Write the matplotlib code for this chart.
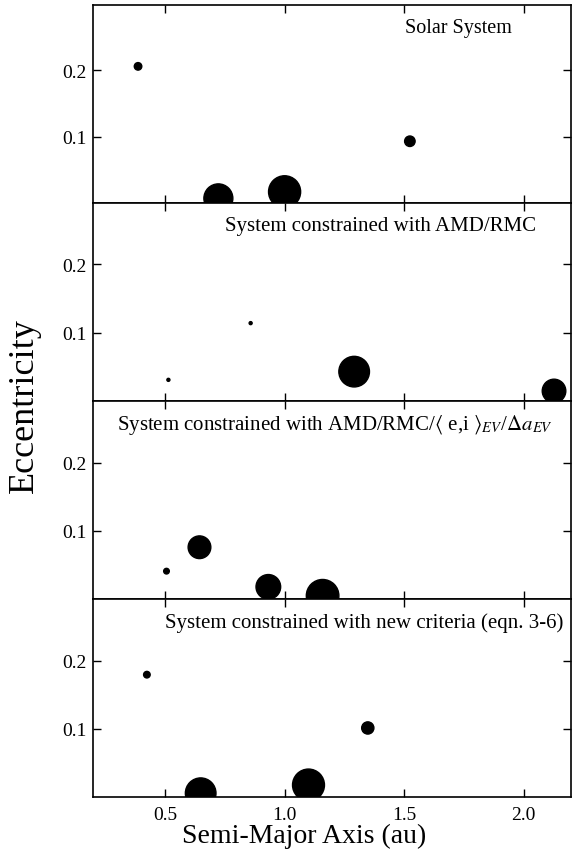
import matplotlib
matplotlib.use('Agg')
from matplotlib import pyplot as plt

plt.rcParams['font.family'] = ['Liberation Serif', 'DejaVu Serif']
plt.rcParams['mathtext.fontset'] = 'stix'

# semi-major axis (au), eccentricity, mass (earth masses) for each panel
titles = ['Solar System',
          'System constrained with AMD/RMC',
          r'System constrained with AMD/RMC/$\langle$ e,i $\rangle_{EV}$/$\Delta a_{EV}$',
          'System constrained with new criteria (eqn. 3-6)']

a_solar = [0.387, 0.723, 1.000, 1.524]
e_solar = [0.206, 0.0068, 0.0167, 0.093]
m_solar = [0.055, 0.815, 1.000, 0.107]

a_amd = [0.514, 0.858, 1.291, 2.127]
e_amd = [0.031, 0.114, 0.043, 0.0147]
m_amd = [0.009, 0.009, 0.91, 0.54]

a_ev = [0.506, 0.644, 0.932, 1.159]
e_ev = [0.041, 0.076, 0.018, 0.005]
m_ev = [0.031, 0.50, 0.59, 1.03]

a_new = [0.424, 0.649, 1.100, 1.348]
e_new = [0.1795, 0.006, 0.018, 0.1015]
m_new = [0.042, 0.91, 0.99, 0.145]

panels = [(a_solar, e_solar, m_solar), (a_amd, e_amd, m_amd),
          (a_ev, e_ev, m_ev), (a_new, e_new, m_new)]
ytops = [0.299, 0.29, 0.29, 0.29]
# title position (axes fraction of left edge)
title_x = [0.652, 0.275, 0.050, 0.150]
title_size = [14.5, 15, 15, 15]

fig = plt.figure(figsize=(5.74, 8.54), dpi=100)
left, right, bottom, top = 0.1626, 0.9956, 0.0652, 0.9933
h = (top - bottom) / 4

for i, (a, e, m) in enumerate(panels):
    ax = fig.add_axes([left, top - (i + 1) * h, right - left, h])
    ax.scatter(a, e, s=[534 * mm for mm in m], c='black', linewidths=1.0,
               edgecolors='black', clip_on=True, zorder=3)
    ax.set_xlim(0.2, 2.2)
    ax.set_ylim(0.0, ytops[i])
    ax.set_yticks([0.1, 0.2])
    ax.set_yticklabels(['0.1', '0.2'])
    ax.set_xticks([0.5, 1.0, 1.5, 2.0])
    if i < 3:
        ax.set_xticklabels([])
    else:
        ax.set_xticklabels(['0.5', '1.0', '1.5', '2.0'])
    ax.tick_params(direction='in', top=True, right=True, length=6, width=1.0,
                   labelsize=14, pad=5)
    ax.tick_params(axis='x', pad=6)
    for sp in ax.spines.values():
        sp.set_linewidth(1.2)
    ax.text(title_x[i], 0.885, titles[i], transform=ax.transAxes,
            fontsize=title_size[i], ha='left', va='center')

fig.text(24 / 574, 1 - 406 / 854, 'Eccentricity', rotation=90,
         fontsize=26, ha='center', va='center')
fig.text(304 / 574, 1 - 843 / 854, 'Semi-Major Axis (au)',
         fontsize=20, ha='center', va='baseline')

fig.savefig('out.png', dpi=100)
